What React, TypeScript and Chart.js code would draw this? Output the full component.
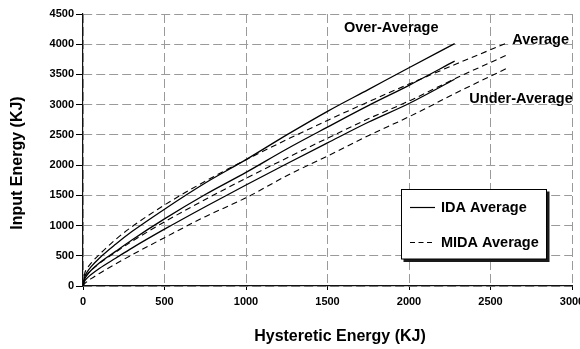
import React, { useEffect, useRef } from 'react';
import { Chart, registerables } from 'chart.js';

Chart.register(...registerables);

const FONT = '"Liberation Sans", Arial, Helvetica, sans-serif';

// Hysteretic energy (KJ) sample points for the IDA curves
const idaX = [0, 10, 25, 50, 100, 200, 300, 500, 750, 1000, 1250, 1500, 1750, 2000, 2280];
// Input energy (KJ) for the IDA curves
const idaOver = [0, 150, 230, 320, 460, 690, 900, 1271, 1704, 2090, 2500, 2890, 3250, 3611, 4010];
const idaAverage = [0, 110, 180, 260, 380, 573, 762, 1110, 1513, 1880, 2267, 2629, 2984, 3320, 3720];
const idaUnder = [0, 80, 130, 190, 290, 459, 627, 940, 1312, 1671, 2023, 2368, 2709, 3020, 3420];

// Hysteretic energy (KJ) sample points for the MIDA curves
const midaX = [0, 10, 25, 50, 100, 200, 300, 500, 750, 1000, 1250, 1500, 1750, 2000, 2300, 2600];
// Input energy (KJ) for the MIDA curves
const midaOver = [0, 200, 290, 380, 520, 770, 980, 1340, 1733, 2089, 2422, 2740, 3046, 3341, 3685, 4020];
const midaAverage = [0, 130, 190, 260, 370, 559, 737, 1060, 1431, 1781, 2117, 2445, 2766, 3060, 3453, 3820];
const midaUnder = [0, 39, 73, 122, 208, 364, 514, 800, 1147, 1460, 1824, 2150, 2487, 2800, 3209, 3600];

const xTitle = 'Hysteretic Energy (KJ)';
const yTitle = 'Input Energy (KJ)';

// Curve group labels, anchored in data units
const groupNames = ['Over-Average', 'Average', 'Under-Average'];
const groupAnchorX = [1601, 2634, 2370];
const groupAnchorY = [4264, 4070, 3089];

const legendNames = ['IDA Average', 'MIDA Average'];

const SOLID: number[] = [];
const DASH = [6, 4];

function toPoints(xs: number[], ys: number[]) {
  return xs.map((x, i) => ({ x, y: ys[i] }));
}

const overlayPlugin = {
  id: 'overlay',
  afterDraw(chart: any) {
    const { ctx } = chart;
    const xs = chart.scales.x;
    const ys = chart.scales.y;
    ctx.save();
    ctx.fillStyle = '#000';
    ctx.textBaseline = 'middle';

    // group labels beside the curves
    ctx.font = `bold 14.5px ${FONT}`;
    ctx.textAlign = 'left';
    groupNames.forEach((name, i) => {
      ctx.fillText(name, xs.getPixelForValue(groupAnchorX[i]), ys.getPixelForValue(groupAnchorY[i]));
    });

    // axis titles
    ctx.font = `bold 16px ${FONT}`;
    ctx.textAlign = 'center';
    ctx.fillText(xTitle, 340, 337);
    ctx.save();
    ctx.translate(18, 163);
    ctx.rotate(-Math.PI / 2);
    ctx.fillText(yTitle, 0, 0);
    ctx.restore();

    // legend box with drop shadow
    const bx = 401.5;
    const by = 189.5;
    const bw = 145;
    const bh = 69.5;
    ctx.fillStyle = '#1a1a1a';
    ctx.fillRect(bx + 2, by + 2, bw + 1, bh + 1);
    ctx.fillStyle = '#fff';
    ctx.fillRect(bx, by, bw, bh);
    ctx.strokeStyle = '#000';
    ctx.lineWidth = 1;
    ctx.strokeRect(bx, by, bw, bh);

    const rowsY = [207.5, 242.5];
    legendNames.forEach((name, i) => {
      const yy = rowsY[i];
      ctx.beginPath();
      ctx.setLineDash(i === 0 ? SOLID : [5, 3.5]);
      ctx.lineWidth = 1.2;
      ctx.moveTo(410, yy);
      ctx.lineTo(435, yy);
      ctx.stroke();
      ctx.setLineDash([]);
      ctx.fillStyle = '#000';
      ctx.font = `bold 14.5px ${FONT}`;
      ctx.textAlign = 'left';
      ctx.fillText(name, 441, yy);
    });
    ctx.restore();
  },
};

export default function App() {
  const canvasRef = useRef<HTMLCanvasElement | null>(null);

  useEffect(() => {
    const canvas = canvasRef.current;
    if (!canvas) return;

    const lineDs = (label: string, xs: number[], ys: number[], dash: number[]) => ({
      label,
      data: toPoints(xs, ys),
      borderColor: '#000',
      backgroundColor: '#000',
      borderWidth: dash.length ? 1.1 : 1.3,
      borderDash: dash,
      pointRadius: 0,
      fill: false,
      cubicInterpolationMode: 'monotone' as const,
    });

    const chart = new Chart(canvas, {
      type: 'line',
      data: {
        datasets: [
          lineDs('IDA Over-Average', idaX, idaOver, SOLID),
          lineDs('IDA Average', idaX, idaAverage, SOLID),
          lineDs('IDA Under-Average', idaX, idaUnder, SOLID),
          lineDs('MIDA Over-Average', midaX, midaOver, DASH),
          lineDs('MIDA Average', midaX, midaAverage, DASH),
          lineDs('MIDA Under-Average', midaX, midaUnder, DASH),
        ],
      },
      options: {
        responsive: false,
        animation: false,
        devicePixelRatio: 1,
        layout: { padding: { left: 0, right: 8, top: 14, bottom: 0 } },
        plugins: {
          legend: { display: false },
          tooltip: { enabled: false },
          title: { display: false },
        },
        scales: {
          x: {
            type: 'linear',
            min: 0,
            max: 3000,
            ticks: {
              stepSize: 500,
              autoSkip: false,
              maxRotation: 0,
              padding: 5,
              color: '#000',
              font: { family: FONT, size: 11, weight: 'bold' },
              callback: (v: any) => String(v),
            },
            grid: {
              color: '#9a9a9a',
              lineWidth: 1,
              tickLength: 4,
              tickColor: '#000',
              tickBorderDash: [],
            },
            border: { display: true, color: '#111', width: 1.2, dash: [9, 4] },
            afterFit: (scale: any) => {
              scale.height = 63;
              scale.paddingLeft = 0;
              scale.paddingRight = 0;
            },
          },
          y: {
            type: 'linear',
            min: 0,
            max: 4500,
            ticks: {
              stepSize: 500,
              autoSkip: false,
              padding: 2,
              color: '#000',
              font: { family: FONT, size: 11, weight: 'bold' },
              callback: (v: any) => String(v),
            },
            grid: {
              color: '#9a9a9a',
              lineWidth: 1,
              tickLength: 7,
              tickColor: '#000',
              tickBorderDash: [],
            },
            border: { display: true, color: '#111', width: 1.2, dash: [9, 4] },
            afterFit: (scale: any) => {
              scale.width = 83;
              scale.paddingTop = 0;
              scale.paddingBottom = 0;
            },
          },
        },
      },
      plugins: [overlayPlugin],
    });

    return () => chart.destroy();
  }, []);

  return (
    <div style={{ position: 'fixed', left: 0, top: 0, width: 580, height: 349, background: '#fff' }}>
      <canvas ref={canvasRef} width={580} height={349} />
    </div>
  );
}
